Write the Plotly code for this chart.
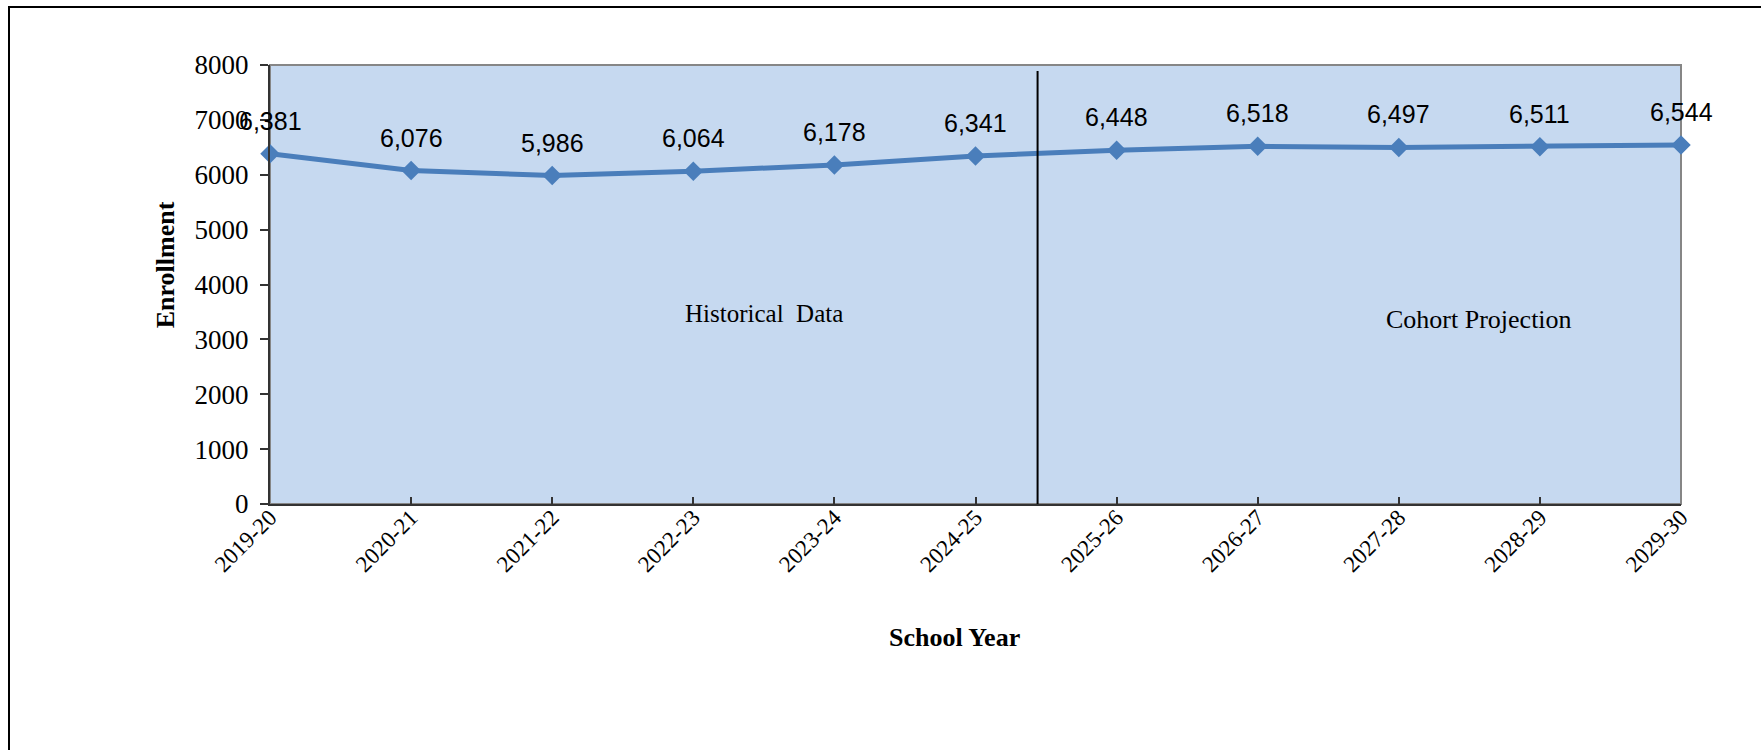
import plotly.graph_objects as go

# School years and enrollment counts (historical through 2024-25, cohort projection after)
school_years = ["2019-20", "2020-21", "2021-22", "2022-23", "2023-24", "2024-25",
                "2025-26", "2026-27", "2027-28", "2028-29", "2029-30"]
enrollment = [6381, 6076, 5986, 6064, 6178, 6341, 6448, 6518, 6497, 6511, 6544]

y_ticks = [0, 1000, 2000, 3000, 4000, 5000, 6000, 7000, 8000]

W, H = 1761, 750
L, R, T, B = 270, 80, 65, 246

LINE_BLUE = "#4A7EBB"
PLOT_BG = "#C6D9F0"
SERIF = "Liberation Serif, Times New Roman, serif"
SANS = "Liberation Sans, Arial, sans-serif"

x_idx = list(range(len(school_years)))

fig = go.Figure()
fig.add_trace(go.Scatter(
    x=x_idx, y=enrollment, mode="lines+markers",
    line=dict(color=LINE_BLUE, width=5),
    marker=dict(symbol="diamond", size=15, color=LINE_BLUE),
    cliponaxis=False, hoverinfo="skip", showlegend=False,
))

# value labels above each point
for xi, v in zip(x_idx, enrollment):
    fig.add_annotation(x=xi, y=v, text=f"{v:,}", showarrow=False,
                       yshift=33, font=dict(family=SANS, size=25, color="#000000"))

# section captions
fig.add_annotation(x=3.5, y=3480, text="Historical&nbsp;&nbsp;Data", showarrow=False,
                   font=dict(family=SERIF, size=25, color="#000000"))
fig.add_annotation(x=8.57, y=3370, text="Cohort Projection", showarrow=False,
                   font=dict(family=SERIF, size=26, color="#000000"))

# axis titles
fig.add_annotation(xref="paper", yref="paper", x=0.485, y=-0.305, yanchor="middle",
                   text="<b>School Year</b>", showarrow=False,
                   font=dict(family=SERIF, size=26, color="#000000"))
fig.add_annotation(xref="paper", yref="paper", x=-0.074, y=0.545,
                   xanchor="center", yanchor="middle", textangle=-90,
                   text="<b>Enrollment</b>", showarrow=False,
                   font=dict(family=SERIF, size=26, color="#000000"))

# divider between historical and projected years
fig.add_shape(type="line", xref="x", yref="y", x0=5.44, x1=5.44, y0=-530, y1=7890,
              line=dict(color="#000000", width=2), layer="above")

# plot-area frame (top and right edges in grey)
fig.add_shape(type="rect", xref="paper", yref="paper", x0=0, x1=1, y0=0, y1=1,
              line=dict(color="#868686", width=2), layer="below")

# outer chart border
pw, ph = W - L - R, H - T - B
fig.add_shape(type="rect", xref="paper", yref="paper",
              x0=(9 - L) / pw, x1=(W + 20 - L) / pw,
              y0=(H - T - B - (H + 20 - T)) / ph, y1=(H - B - 7) / ph,
              line=dict(color="#000000", width=2), layer="below")

fig.update_layout(
    width=W, height=H,
    margin=dict(l=L, r=R, t=T, b=B),
    paper_bgcolor="#FFFFFF", plot_bgcolor=PLOT_BG,
    showlegend=False,
)
fig.update_xaxes(
    range=[0, len(school_years) - 1],
    tickmode="array", tickvals=x_idx, ticktext=school_years,
    tickangle=-45, ticks="inside", ticklen=7, tickwidth=2, tickcolor="#333333",
    showline=True, linecolor="#333333", linewidth=2, showgrid=False, zeroline=False,
    tickfont=dict(family=SERIF, size=23, color="#000000"),
    ticklabelstandoff=-11,
)
fig.update_yaxes(
    range=[0, 8000], tickmode="array", tickvals=y_ticks,
    ticks="outside", ticklen=8, tickwidth=2, tickcolor="#333333",
    showline=True, linecolor="#333333", linewidth=2, showgrid=False, zeroline=False,
    tickfont=dict(family=SERIF, size=27, color="#000000"),
    ticklabelstandoff=6,
)

fig.write_html("out.html")
